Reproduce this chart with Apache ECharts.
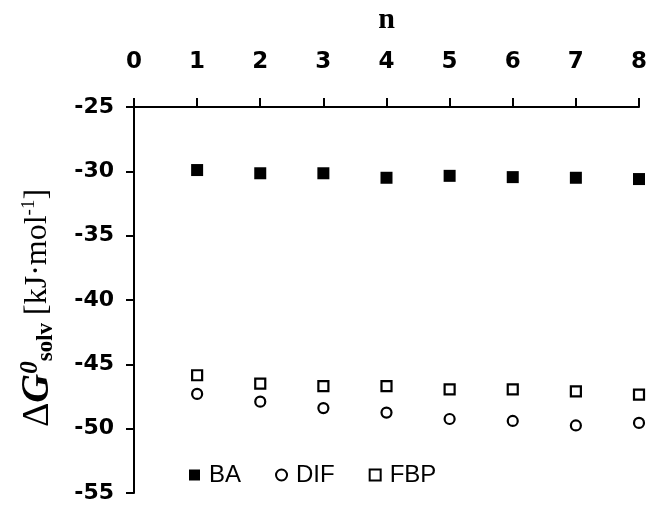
<!DOCTYPE html>
<html>
<head>
<meta charset="utf-8">
<script src="https://cdn.jsdelivr.net/npm/echarts@6/dist/echarts.min.js"></script>
<style>
  html, body { margin: 0; padding: 0; background: #fff; }
  #chart { width: 650px; height: 505px; }
</style>
</head>
<body>
<div id="chart"></div>
<script>
// n values and solvation free energies (kJ/mol)
var nValues = [1, 2, 3, 4, 5, 6, 7, 8];
var baValues = [-29.9, -30.15, -30.15, -30.5, -30.35, -30.45, -30.5, -30.6];
var difValues = [-47.3, -47.9, -48.4, -48.75, -49.25, -49.4, -49.75, -49.55];
var fbpValues = [-45.85, -46.5, -46.7, -46.7, -46.95, -46.95, -47.1, -47.35];
var seriesNames = ["BA", "DIF", "FBP"];

function pairs(ys) {
  return nValues.map(function (n, i) { return [n, ys[i]]; });
}

var axisLine = { show: true, lineStyle: { color: "#000", width: 2 } };
var serif = "'Liberation Serif', 'DejaVu Serif', serif";

var option = {
  backgroundColor: "#fff",
  animation: false,
  grid: { left: 134, right: 8, top: 97, bottom: 12 },
  legend: {
    data: seriesNames,
    left: 184,
    top: 458,
    itemWidth: 11,
    itemHeight: 11,
    itemGap: 34,
    textStyle: { fontSize: 24, color: "#000", padding: [0, 0, 0, 4], fontFamily: "'Liberation Sans', Arial, sans-serif" }
  },
  xAxis: {
    type: "value",
    position: "top",
    min: 0,
    max: 8,
    interval: 1,
    name: "n",
    nameLocation: "middle",
    nameGap: 72,
    nameTextStyle: { fontSize: 30, fontWeight: "bold", fontFamily: serif, color: "#000" },
    axisLine: axisLine,
    axisTick: { show: true, length: 9, lineStyle: { color: "#000", width: 2 } },
    axisLabel: { margin: 33, fontSize: 23, fontWeight: "bold", color: "#000", fontFamily: "'DejaVu Sans', sans-serif" },
    splitLine: { show: false }
  },
  yAxis: {
    type: "value",
    min: -55,
    max: -25,
    interval: 5,
    // extra padding on the closing bracket pushes the label a bit lower, like the original
    name: "{a|Δ}{d|G}{s|0}{b|solv}{n| [kJ·mol}{p|-1}{e|]}",
    nameLocation: "middle",
    nameRotate: 90,
    nameGap: 76,
    nameTextStyle: {
      color: "#000",
      fontFamily: serif,
      rich: {
        a: { fontSize: 38, fontFamily: serif, color: "#000" },
        d: { fontSize: 40, fontWeight: "bold", fontStyle: "italic", fontFamily: serif, color: "#000" },
        s: { fontSize: 25, fontWeight: "bold", fontStyle: "italic", fontFamily: serif, color: "#000", verticalAlign: "top" },
        b: { fontSize: 23, fontWeight: "bold", fontFamily: serif, color: "#000", verticalAlign: "bottom" },
        n: { fontSize: 32, fontFamily: serif, color: "#000" },
        e: { fontSize: 32, fontFamily: serif, color: "#000", padding: [0, 16, 0, 0] },
        p: { fontSize: 19, fontFamily: serif, color: "#000", verticalAlign: "top", padding: [2, 0, 0, 0] }
      }
    },
    axisLine: axisLine,
    axisTick: { show: true, length: 8, lineStyle: { color: "#000", width: 2 } },
    axisLabel: { margin: 20, fontSize: 22, fontWeight: "bold", color: "#000", fontFamily: "'DejaVu Sans', sans-serif" },
    splitLine: { show: false }
  },
  series: [
    {
      name: "BA",
      type: "scatter",
      symbol: "rect",
      symbolSize: 12,
      itemStyle: { color: "#000", opacity: 1 },
      data: pairs(baValues)
    },
    {
      name: "DIF",
      type: "scatter",
      symbol: "circle",
      symbolSize: 10,
      itemStyle: { color: "#fff", borderColor: "#000", borderWidth: 2.2, opacity: 1 },
      data: pairs(difValues)
    },
    {
      name: "FBP",
      type: "scatter",
      symbol: "rect",
      symbolSize: 10,
      itemStyle: { color: "#fff", borderColor: "#000", borderWidth: 2.2, opacity: 1 },
      data: pairs(fbpValues)
    }
  ]
};

var myChart = echarts.init(document.getElementById("chart"));
myChart.setOption(option);
</script>
</body>
</html>
